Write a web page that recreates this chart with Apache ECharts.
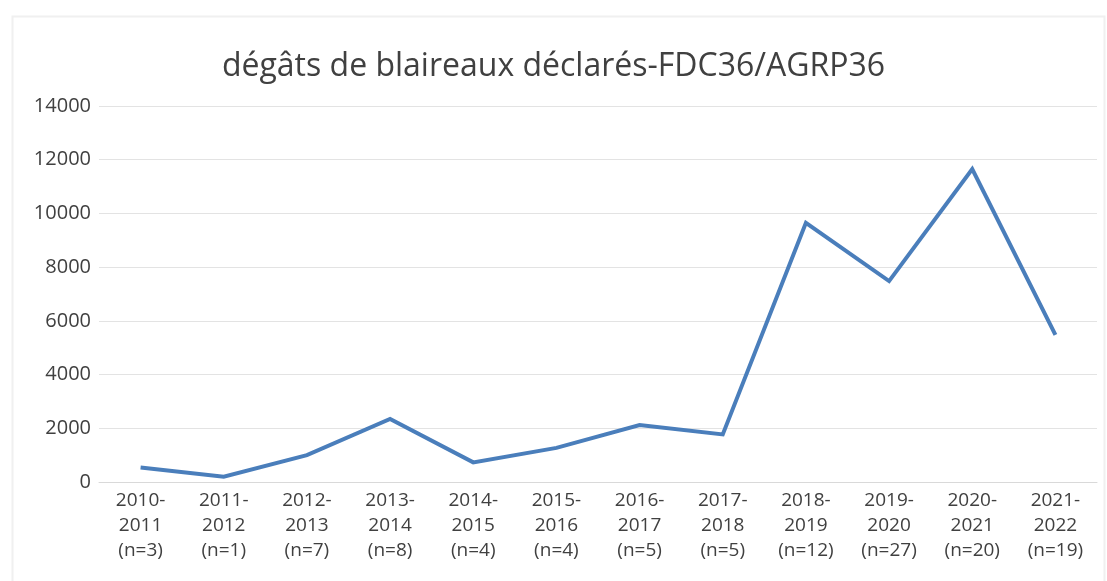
<!DOCTYPE html>
<html>
<head>
<meta charset="utf-8">
<script src="https://cdn.jsdelivr.net/npm/echarts@6/dist/echarts.min.js"></script>
<style>html,body{margin:0;padding:0;background:#fff;}#c{width:1107px;height:581px;}</style>
</head>
<body>
<div id="c"></div>
<script>
const titleText = 'dégâts de blaireaux déclarés-FDC36/AGRP36';
const categories = [
  '2010-\n2011\n(n=3)', '2011-\n2012\n(n=1)', '2012-\n2013\n(n=7)', '2013-\n2014\n(n=8)',
  '2014-\n2015\n(n=4)', '2015-\n2016\n(n=4)', '2016-\n2017\n(n=5)', '2017-\n2018\n(n=5)',
  '2018-\n2019\n(n=12)', '2019-\n2020\n(n=27)', '2020-\n2021\n(n=20)', '2021-\n2022\n(n=19)'
];
const values = [540, 200, 1000, 2350, 730, 1270, 2120, 1770, 9650, 7480, 11650, 5480];
const yMin = 0, yMax = 14000, yStep = 2000;

const chart = echarts.init(document.getElementById('c'), null, {renderer: 'canvas'});
chart.setOption({
  backgroundColor: '#ffffff',
  animation: false,
  graphic: [{
    type: 'rect', left: 10, top: 14, silent: true,
    shape: {width: 1092, height: 620},
    style: {fill: 'none', stroke: '#f0f0f0', lineWidth: 2}
  }],
  title: {
    text: titleText, left: 'center', top: 46,
    textStyle: {fontFamily: 'Open Sans', fontSize: 32, fontWeight: 'normal', color: '#404040'}
  },
  grid: {left: 99, right: 10, top: 106, bottom: 99},
  xAxis: {
    type: 'category', data: categories, boundaryGap: true,
    axisLine: {show: true, lineStyle: {color: '#d9d9d9', width: 1}},
    axisTick: {show: false},
    axisLabel: {interval: 0, margin: 6, fontFamily: 'Open Sans', fontSize: 19, lineHeight: 25, color: '#404040'},
    splitLine: {show: false}
  },
  yAxis: {
    type: 'value', min: yMin, max: yMax, interval: yStep,
    axisLine: {show: false}, axisTick: {show: false},
    axisLabel: {margin: 8, fontFamily: 'Open Sans', fontSize: 20, color: '#404040', formatter: v => String(v)},
    splitLine: {lineStyle: {color: '#e3e3e3', width: 1}}
  },
  series: [{
    type: 'line', data: values, showSymbol: false, symbol: 'none',
    lineStyle: {color: '#4a7ebb', width: 4, join: 'miter'}
  }]
});
</script>
</body>
</html>
